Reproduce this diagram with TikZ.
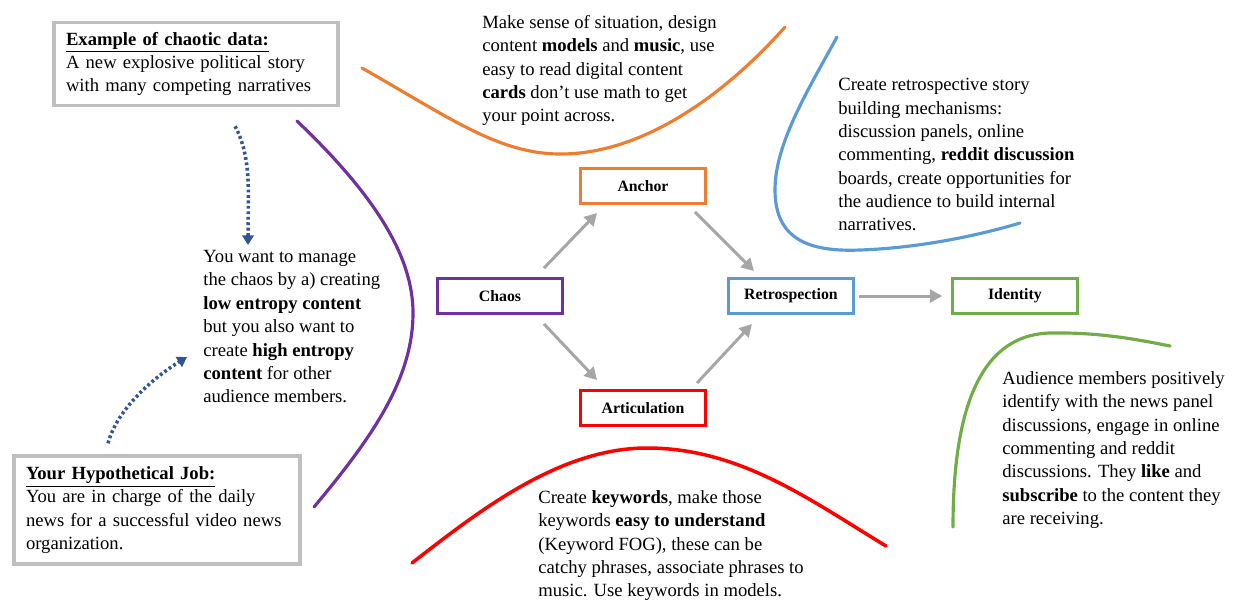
\documentclass[tikz,border=0pt]{standalone}
\usepackage{fontspec}
\setmainfont{Liberation Serif}
\usetikzlibrary{arrows.meta,positioning,calc}

\definecolor{chaospurple}{HTML}{7030A0}
\definecolor{anchororange}{HTML}{ED7D31}
\definecolor{retroblue}{HTML}{5B9BD5}
\definecolor{articred}{HTML}{FF0000}
\definecolor{identgreen}{HTML}{70AD47}
\definecolor{boxgray}{HTML}{BFBFBF}
\definecolor{flowgray}{HTML}{A6A6A6}
\definecolor{hintblue}{HTML}{2F5597}

\tikzset{
  stage/.style={draw=#1, line width=1.7pt, minimum width=2.5cm, minimum height=0.7cm,
    inner sep=0pt, font=\bfseries\fontsize{9}{11}\selectfont},
  infobox/.style={draw=boxgray, line width=2pt, align=left, inner xsep=0.24cm, inner ysep=0pt,
    font=\fontsize{10.6}{13.3}\selectfont},
  note/.style={anchor=north west, inner sep=0pt, align=left,
    font=\fontsize{10.6}{13.3}\selectfont},
  flow/.style={draw=flowgray, line width=1.7pt, -{Triangle[length=7pt,width=7.5pt]}},
  hint/.style={draw=hintblue, line width=2pt, dash pattern=on 1.6pt off 1.5pt,
    -{Triangle[length=5.5pt,width=6.5pt]}},
  swoosh/.style={line width=1.8pt, line cap=round}
}

\begin{document}
\begin{tikzpicture}[x=0.02cm, y=-0.02cm]
  \useasboundingbox (0,0) rectangle (1236,600);

  % the five stages
  \node[stage=chaospurple] (chaos) at (500,296) {Chaos};
  \node[stage=retroblue, right=3.26cm of chaos] (retro) {Retrospection};
  \node[stage=identgreen, right=1.92cm of retro] (ident) {Identity};
  \node[stage=anchororange] (anc) at (643,186) {Anchor};
  \node[stage=articred] (artic) at (643,408) {Articulation};

  \draw[flow] ($(chaos.north east)+(-20,-9)$) -- ($(anc.south west)+(18,8)$);
  \draw[flow] ($(anc.south east)+(-12,7)$) -- ($(retro.north west)+(27,-6)$);
  \draw[flow] ($(chaos.south east)+(-20,9)$) -- ($(artic.north west)+(18,-9)$);
  \draw[flow] ($(artic.north east)+(-10,-6)$) -- ($(retro.south west)+(25,9)$);
  \draw[flow, shorten <=2.3pt, shorten >=5pt] (retro) -- (ident);

  % boxes on the left
  \node[infobox, text width=5.2cm, minimum height=1.66cm] (ex) at (196,64)
    {\underline{\textbf{Example of chaotic data:}}\\
     A new explosive political story\\
     with many competing narratives};
  \node[infobox, text width=5.24cm, minimum height=2.16cm] (job) at (157,510)
    {\underline{\textbf{Your Hypothetical Job:}}\\
     You are in charge of the daily\\
     news for a successful video news\\
     organization.};

  \node[note] (manage) at (203,250)
    {You want to manage\\
     the chaos by a) creating\\
     \textbf{low entropy content}\\
     but you also want to\\
     create \textbf{high entropy}\\
     \textbf{content} for other\\
     audience members.};

  \draw[hint] ($(ex.south)+(39,19)$) .. controls ($(ex.south)+(56,50)$) and ($(manage.north west)+(45,-55)$) .. ($(manage.north west)+(45,-5)$);
  \draw[hint] ($(job.north)+(-49,-11)$) .. controls ($(job.north)+(-40,-45)$) and ($(manage.north west)+(-50,128)$) .. ($(manage.north west)+(-16,107)$);

  % notes on the stages
  \node[note] (anctext) at (482,15)
    {Make sense of situation, design\\
     content \textbf{models} and \textbf{music}, use\\
     easy to read digital content\\
     \textbf{cards} don't use math to get\\
     your point across.};
  \node[note] (retrotext) at (838,78)
    {Create retrospective story\\
     building mechanisms:\\
     discussion panels, online\\
     commenting, \textbf{reddit discussion}\\
     boards, create opportunities for\\
     the audience to build internal\\
     narratives.};
  \node[note] (identtext) at (1002,371)
    {Audience members positively\\
     identify with the news panel\\
     discussions, engage in online\\
     commenting and reddit\\
     discussions. They \textbf{like} and\\
     \textbf{subscribe} to the content they\\
     are receiving.};
  \node[note] (artictext) at (538,490)
    {Create \textbf{keywords}, make those\\
     keywords \textbf{easy to understand}\\
     (Keyword FOG), these can be\\
     catchy phrases, associate phrases to\\
     music. Use keywords in models.};

  % swooshes
  \draw[swoosh, chaospurple] (297,121) .. controls (380,200) and (413,260) .. (413,313)
    .. controls (413,380) and (370,440) .. (314,507);
  \draw[swoosh, anchororange] (362,68) .. controls (450,118) and (500,155) .. (563,154)
    .. controls (640,153) and (720,100) .. (785,27);
  \draw[swoosh, retroblue] (837,37) .. controls (805,95) and (775,145) .. (775,190)
    .. controls (775,240) and (810,252) .. (860,250)
    .. controls (920,248) and (980,235) .. (1020,223);
  \draw[swoosh, identgreen] (953,527) .. controls (953,420) and (975,335) .. (1050,333)
    .. controls (1100,332) and (1140,340) .. (1170,346);
  \draw[swoosh, articred, line width=2pt] (412,563) .. controls (480,510) and (560,448) .. (647,448)
    .. controls (740,448) and (810,500) .. (886,546);
\end{tikzpicture}
\end{document}
